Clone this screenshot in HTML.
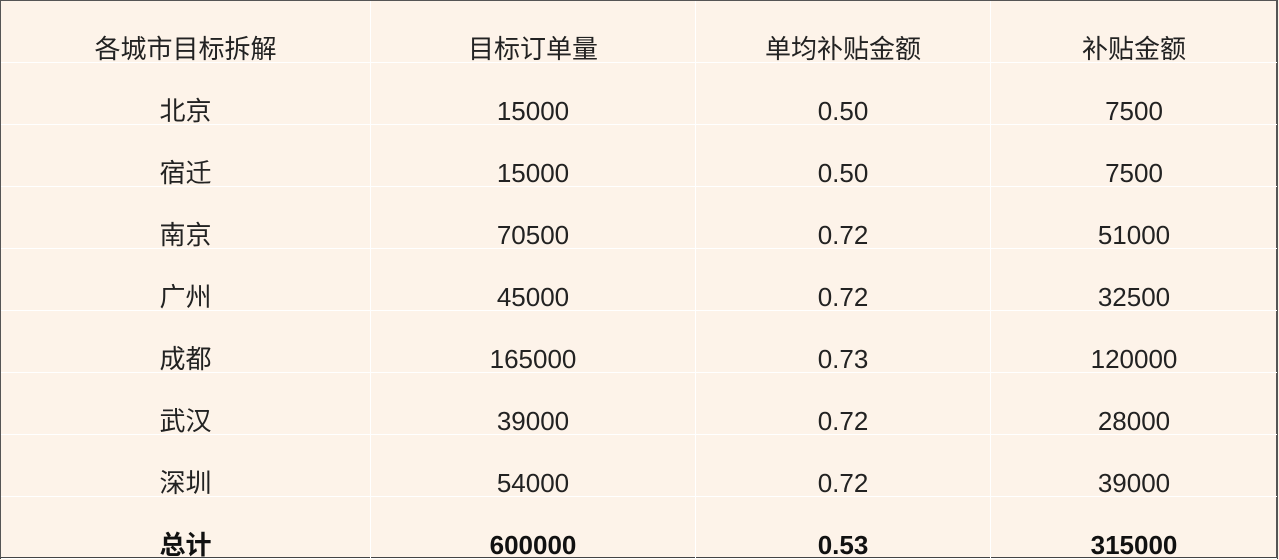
<!DOCTYPE html>
<html><head><meta charset="utf-8"><style>
html,body{margin:0;padding:0;width:1279px;height:560px;overflow:hidden;background:#fdf3e9}
#t{position:absolute;left:0;top:0;width:1278px;height:559px;border:1px solid #555;border-right:2px solid #555;border-bottom:2px solid #444;box-sizing:border-box;background:#fdf3e9}
.r{position:absolute;left:0;width:1276px;height:62px;border-bottom:1px solid #fff;box-sizing:border-box}
.c{position:absolute;top:0;height:62px;text-align:center;font:26px "Liberation Sans","Noto Sans CJK SC",sans-serif;color:#222;line-height:26px;padding-top:35px;box-sizing:border-box;border-right:1px solid #fff}
.b .c{font-weight:bold;color:#111}
</style></head><body>
<div id="t"></div>
<script>
const cities=["北京","宿迁","南京","广州","成都","武汉","深圳","总计"];
const orders=["15000","15000","70500","45000","165000","39000","54000","600000"];
const perSubsidy=["0.50","0.50","0.72","0.72","0.73","0.72","0.72","0.53"];
const subsidy=["7500","7500","51000","32500","120000","28000","39000","315000"];
const headers=["各城市目标拆解","目标订单量","单均补贴金额","补贴金额"];
const t=document.getElementById('t');
const cols=[[0,370],[370,325],[695,295],[990,286]];
function row(vals,i,bold,name){
  const r=document.createElement('div');
  r.className='r'+(bold?' b':'');
  r.style.top=(i*62)+'px';
  
  
  vals.forEach((v,j)=>{
    const c=document.createElement('div');
    c.className='c';
    c.style.left=cols[j][0]+'px';c.style.width=cols[j][1]+'px';
    if(j==3)c.style.borderRight='none';
    c.textContent=v;
    
    
    r.appendChild(c);
  });
  t.appendChild(r);
}
row(headers,0,false,'header-row');
cities.forEach((c,i)=>row([c,orders[i],perSubsidy[i],subsidy[i]],i+1,i==cities.length-1,i==cities.length-1?'total-row':'city-row'));
</script>
</body></html>
